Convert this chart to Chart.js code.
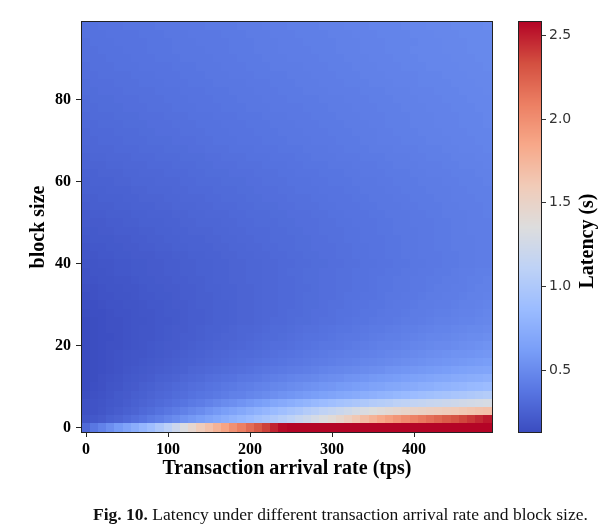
<!DOCTYPE html>
<html>
<head>
<meta charset="utf-8">
<title>Latency heatmap</title>
<script src="https://cdn.jsdelivr.net/npm/chart.js"></script>
<style>
  html, body { margin: 0; padding: 0; background: #fff; }
  #wrap { position: relative; width: 616px; height: 531px; overflow: hidden; }
  #heatmap { position: absolute; left: 0; top: 0; }
  #colorbar { position: absolute; left: 500px; top: 0; }
  #caption { position: absolute; left: 93px; top: 504px; font: 17.5px "Liberation Serif", serif; color: #111; white-space: nowrap; }
</style>
</head>
<body>
<div id="wrap">
  <canvas id="heatmap" width="616" height="531"></canvas>
  <canvas id="colorbar" width="116" height="531"></canvas>
  <div id="caption"><b>Fig. 10.</b> Latency under different transaction arrival rate and block size.</div>
</div>
<script>
// Transaction arrival rate (tps), one column each
const rates = [0,10,20,30,40,50,60,70,80,90,100,110,120,130,140,150,160,170,180,190,200,210,220,230,240,250,260,270,280,290,300,310,320,330,340,350,360,370,380,390,400,410,420,430,440,450,460,470,480,490];

// Block size, top row first
const blockSizes = [98,96,94,92,90,88,86,84,82,80,78,76,74,72,70,68,66,64,62,60,58,56,54,52,50,48,46,44,42,40,38,36,34,32,30,28,26,24,22,20,18,16,14,12,10,8,6,4,2,0];

// Latency (s), one row per block size
const latency = [
  [0.35,0.35,0.36,0.36,0.36,0.37,0.37,0.37,0.37,0.38,0.38,0.38,0.39,0.39,0.39,0.40,0.40,0.40,0.40,0.41,0.41,0.41,0.42,0.42,0.42,0.43,0.43,0.43,0.43,0.44,0.44,0.44,0.45,0.45,0.45,0.46,0.46,0.46,0.46,0.47,0.47,0.47,0.48,0.48,0.48,0.49,0.49,0.49,0.49,0.50],
  [0.35,0.35,0.35,0.36,0.36,0.36,0.36,0.37,0.37,0.37,0.38,0.38,0.38,0.39,0.39,0.39,0.39,0.40,0.40,0.40,0.41,0.41,0.41,0.42,0.42,0.42,0.43,0.43,0.43,0.43,0.44,0.44,0.44,0.45,0.45,0.45,0.46,0.46,0.46,0.46,0.47,0.47,0.47,0.48,0.48,0.48,0.49,0.49,0.49,0.49],
  [0.34,0.35,0.35,0.35,0.36,0.36,0.36,0.36,0.37,0.37,0.37,0.38,0.38,0.38,0.39,0.39,0.39,0.39,0.40,0.40,0.40,0.41,0.41,0.41,0.42,0.42,0.42,0.43,0.43,0.43,0.43,0.44,0.44,0.44,0.45,0.45,0.45,0.46,0.46,0.46,0.46,0.47,0.47,0.47,0.48,0.48,0.48,0.49,0.49,0.49],
  [0.34,0.34,0.35,0.35,0.35,0.36,0.36,0.36,0.37,0.37,0.37,0.38,0.38,0.38,0.38,0.39,0.39,0.39,0.40,0.40,0.40,0.41,0.41,0.41,0.42,0.42,0.42,0.42,0.43,0.43,0.43,0.44,0.44,0.44,0.45,0.45,0.45,0.46,0.46,0.46,0.47,0.47,0.47,0.47,0.48,0.48,0.48,0.49,0.49,0.49],
  [0.34,0.34,0.34,0.35,0.35,0.35,0.36,0.36,0.36,0.37,0.37,0.37,0.38,0.38,0.38,0.38,0.39,0.39,0.39,0.40,0.40,0.40,0.41,0.41,0.41,0.42,0.42,0.42,0.42,0.43,0.43,0.43,0.44,0.44,0.44,0.45,0.45,0.45,0.46,0.46,0.46,0.47,0.47,0.47,0.47,0.48,0.48,0.48,0.49,0.49],
  [0.33,0.34,0.34,0.34,0.35,0.35,0.35,0.36,0.36,0.36,0.36,0.37,0.37,0.37,0.38,0.38,0.38,0.39,0.39,0.39,0.40,0.40,0.40,0.41,0.41,0.41,0.41,0.42,0.42,0.42,0.43,0.43,0.43,0.44,0.44,0.44,0.45,0.45,0.45,0.46,0.46,0.46,0.47,0.47,0.47,0.47,0.48,0.48,0.48,0.49],
  [0.33,0.33,0.34,0.34,0.34,0.34,0.35,0.35,0.35,0.36,0.36,0.36,0.37,0.37,0.37,0.38,0.38,0.38,0.39,0.39,0.39,0.40,0.40,0.40,0.40,0.41,0.41,0.41,0.42,0.42,0.42,0.43,0.43,0.43,0.44,0.44,0.44,0.45,0.45,0.45,0.45,0.46,0.46,0.46,0.47,0.47,0.47,0.48,0.48,0.48],
  [0.32,0.33,0.33,0.33,0.34,0.34,0.34,0.35,0.35,0.35,0.36,0.36,0.36,0.37,0.37,0.37,0.38,0.38,0.38,0.38,0.39,0.39,0.39,0.40,0.40,0.40,0.41,0.41,0.41,0.42,0.42,0.42,0.43,0.43,0.43,0.44,0.44,0.44,0.45,0.45,0.45,0.46,0.46,0.46,0.46,0.47,0.47,0.47,0.48,0.48],
  [0.32,0.32,0.33,0.33,0.33,0.34,0.34,0.34,0.34,0.35,0.35,0.35,0.36,0.36,0.36,0.37,0.37,0.37,0.38,0.38,0.38,0.39,0.39,0.39,0.40,0.40,0.40,0.41,0.41,0.41,0.42,0.42,0.42,0.42,0.43,0.43,0.43,0.44,0.44,0.44,0.45,0.45,0.45,0.46,0.46,0.46,0.47,0.47,0.47,0.48],
  [0.31,0.32,0.32,0.32,0.33,0.33,0.33,0.34,0.34,0.34,0.35,0.35,0.35,0.36,0.36,0.36,0.37,0.37,0.37,0.38,0.38,0.38,0.39,0.39,0.39,0.40,0.40,0.40,0.40,0.41,0.41,0.41,0.42,0.42,0.42,0.43,0.43,0.43,0.44,0.44,0.44,0.45,0.45,0.45,0.46,0.46,0.46,0.47,0.47,0.47],
  [0.31,0.31,0.32,0.32,0.32,0.33,0.33,0.33,0.34,0.34,0.34,0.35,0.35,0.35,0.36,0.36,0.36,0.37,0.37,0.37,0.38,0.38,0.38,0.39,0.39,0.39,0.39,0.40,0.40,0.40,0.41,0.41,0.41,0.42,0.42,0.42,0.43,0.43,0.43,0.44,0.44,0.44,0.45,0.45,0.45,0.46,0.46,0.46,0.47,0.47],
  [0.30,0.31,0.31,0.31,0.32,0.32,0.32,0.33,0.33,0.33,0.34,0.34,0.34,0.35,0.35,0.35,0.36,0.36,0.36,0.37,0.37,0.37,0.38,0.38,0.38,0.39,0.39,0.39,0.40,0.40,0.40,0.41,0.41,0.41,0.42,0.42,0.42,0.43,0.43,0.43,0.44,0.44,0.44,0.45,0.45,0.45,0.46,0.46,0.46,0.47],
  [0.30,0.30,0.31,0.31,0.31,0.32,0.32,0.32,0.33,0.33,0.33,0.34,0.34,0.34,0.35,0.35,0.35,0.36,0.36,0.36,0.37,0.37,0.37,0.38,0.38,0.38,0.39,0.39,0.39,0.40,0.40,0.40,0.41,0.41,0.41,0.42,0.42,0.43,0.43,0.43,0.44,0.44,0.44,0.45,0.45,0.45,0.46,0.46,0.46,0.47],
  [0.29,0.30,0.30,0.30,0.31,0.31,0.31,0.32,0.32,0.33,0.33,0.33,0.34,0.34,0.34,0.35,0.35,0.35,0.36,0.36,0.36,0.37,0.37,0.37,0.38,0.38,0.38,0.39,0.39,0.39,0.40,0.40,0.40,0.41,0.41,0.41,0.42,0.42,0.43,0.43,0.43,0.44,0.44,0.44,0.45,0.45,0.45,0.46,0.46,0.46],
  [0.29,0.29,0.30,0.30,0.30,0.31,0.31,0.31,0.32,0.32,0.32,0.33,0.33,0.33,0.34,0.34,0.35,0.35,0.35,0.36,0.36,0.36,0.37,0.37,0.37,0.38,0.38,0.38,0.39,0.39,0.39,0.40,0.40,0.40,0.41,0.41,0.42,0.42,0.42,0.43,0.43,0.43,0.44,0.44,0.44,0.45,0.45,0.45,0.46,0.46],
  [0.28,0.29,0.29,0.29,0.30,0.30,0.30,0.31,0.31,0.31,0.32,0.32,0.32,0.33,0.33,0.34,0.34,0.34,0.35,0.35,0.35,0.36,0.36,0.36,0.37,0.37,0.37,0.38,0.38,0.38,0.39,0.39,0.40,0.40,0.40,0.41,0.41,0.41,0.42,0.42,0.42,0.43,0.43,0.43,0.44,0.44,0.45,0.45,0.45,0.46],
  [0.27,0.28,0.28,0.29,0.29,0.29,0.30,0.30,0.30,0.31,0.31,0.31,0.32,0.32,0.32,0.33,0.33,0.34,0.34,0.34,0.35,0.35,0.35,0.36,0.36,0.36,0.37,0.37,0.38,0.38,0.38,0.39,0.39,0.39,0.40,0.40,0.40,0.41,0.41,0.41,0.42,0.42,0.43,0.43,0.43,0.44,0.44,0.44,0.45,0.45],
  [0.27,0.27,0.27,0.28,0.28,0.29,0.29,0.29,0.30,0.30,0.30,0.31,0.31,0.31,0.32,0.32,0.33,0.33,0.33,0.34,0.34,0.34,0.35,0.35,0.35,0.36,0.36,0.37,0.37,0.37,0.38,0.38,0.38,0.39,0.39,0.39,0.40,0.40,0.41,0.41,0.41,0.42,0.42,0.42,0.43,0.43,0.44,0.44,0.44,0.45],
  [0.26,0.26,0.27,0.27,0.27,0.28,0.28,0.29,0.29,0.29,0.30,0.30,0.30,0.31,0.31,0.32,0.32,0.32,0.33,0.33,0.33,0.34,0.34,0.34,0.35,0.35,0.36,0.36,0.36,0.37,0.37,0.37,0.38,0.38,0.39,0.39,0.39,0.40,0.40,0.40,0.41,0.41,0.42,0.42,0.42,0.43,0.43,0.43,0.44,0.44],
  [0.25,0.26,0.26,0.26,0.27,0.27,0.28,0.28,0.28,0.29,0.29,0.29,0.30,0.30,0.31,0.31,0.31,0.32,0.32,0.32,0.33,0.33,0.34,0.34,0.34,0.35,0.35,0.35,0.36,0.36,0.37,0.37,0.37,0.38,0.38,0.38,0.39,0.39,0.40,0.40,0.40,0.41,0.41,0.41,0.42,0.42,0.43,0.43,0.43,0.44],
  [0.25,0.25,0.25,0.26,0.26,0.26,0.27,0.27,0.28,0.28,0.28,0.29,0.29,0.30,0.30,0.30,0.31,0.31,0.31,0.32,0.32,0.33,0.33,0.33,0.34,0.34,0.35,0.35,0.35,0.36,0.36,0.36,0.37,0.37,0.38,0.38,0.38,0.39,0.39,0.40,0.40,0.40,0.41,0.41,0.41,0.42,0.42,0.43,0.43,0.43],
  [0.24,0.24,0.25,0.25,0.25,0.26,0.26,0.27,0.27,0.27,0.28,0.28,0.29,0.29,0.29,0.30,0.30,0.31,0.31,0.31,0.32,0.32,0.33,0.33,0.33,0.34,0.34,0.34,0.35,0.35,0.36,0.36,0.36,0.37,0.37,0.38,0.38,0.38,0.39,0.39,0.40,0.40,0.40,0.41,0.41,0.42,0.42,0.42,0.43,0.43],
  [0.23,0.24,0.24,0.24,0.25,0.25,0.26,0.26,0.26,0.27,0.27,0.28,0.28,0.28,0.29,0.29,0.30,0.30,0.30,0.31,0.31,0.32,0.32,0.32,0.33,0.33,0.34,0.34,0.34,0.35,0.35,0.36,0.36,0.36,0.37,0.37,0.38,0.38,0.38,0.39,0.39,0.40,0.40,0.40,0.41,0.41,0.42,0.42,0.42,0.43],
  [0.22,0.23,0.23,0.24,0.24,0.24,0.25,0.25,0.26,0.26,0.26,0.27,0.27,0.28,0.28,0.29,0.29,0.29,0.30,0.30,0.31,0.31,0.31,0.32,0.32,0.33,0.33,0.33,0.34,0.34,0.35,0.35,0.36,0.36,0.36,0.37,0.37,0.38,0.38,0.38,0.39,0.39,0.40,0.40,0.41,0.41,0.41,0.42,0.42,0.43],
  [0.22,0.22,0.22,0.23,0.23,0.24,0.24,0.25,0.25,0.25,0.26,0.26,0.27,0.27,0.28,0.28,0.28,0.29,0.29,0.30,0.30,0.31,0.31,0.31,0.32,0.32,0.33,0.33,0.33,0.34,0.34,0.35,0.35,0.36,0.36,0.36,0.37,0.37,0.38,0.38,0.39,0.39,0.39,0.40,0.40,0.41,0.41,0.42,0.42,0.42],
  [0.21,0.21,0.22,0.22,0.23,0.23,0.23,0.24,0.24,0.25,0.25,0.26,0.26,0.27,0.27,0.27,0.28,0.28,0.29,0.29,0.30,0.30,0.30,0.31,0.31,0.32,0.32,0.33,0.33,0.34,0.34,0.34,0.35,0.35,0.36,0.36,0.37,0.37,0.38,0.38,0.38,0.39,0.39,0.40,0.40,0.41,0.41,0.42,0.42,0.42],
  [0.20,0.21,0.21,0.21,0.22,0.22,0.23,0.23,0.24,0.24,0.25,0.25,0.26,0.26,0.26,0.27,0.27,0.28,0.28,0.29,0.29,0.30,0.30,0.31,0.31,0.31,0.32,0.32,0.33,0.33,0.34,0.34,0.35,0.35,0.36,0.36,0.36,0.37,0.37,0.38,0.38,0.39,0.39,0.40,0.40,0.41,0.41,0.41,0.42,0.42],
  [0.19,0.20,0.20,0.21,0.21,0.22,0.22,0.23,0.23,0.24,0.24,0.25,0.25,0.26,0.26,0.26,0.27,0.27,0.28,0.28,0.29,0.29,0.30,0.30,0.31,0.31,0.32,0.32,0.33,0.33,0.33,0.34,0.34,0.35,0.35,0.36,0.36,0.37,0.37,0.38,0.38,0.39,0.39,0.40,0.40,0.41,0.41,0.41,0.42,0.42],
  [0.19,0.19,0.20,0.20,0.21,0.21,0.22,0.22,0.22,0.23,0.23,0.24,0.24,0.25,0.25,0.26,0.26,0.27,0.27,0.28,0.28,0.29,0.29,0.30,0.30,0.31,0.31,0.32,0.32,0.33,0.33,0.34,0.34,0.35,0.35,0.36,0.36,0.37,0.37,0.38,0.38,0.39,0.39,0.39,0.40,0.40,0.41,0.41,0.42,0.42],
  [0.18,0.18,0.19,0.19,0.20,0.20,0.21,0.21,0.22,0.22,0.23,0.23,0.24,0.24,0.25,0.25,0.26,0.26,0.27,0.27,0.28,0.28,0.29,0.29,0.30,0.30,0.31,0.31,0.32,0.32,0.33,0.33,0.34,0.34,0.35,0.35,0.36,0.36,0.37,0.37,0.38,0.38,0.39,0.39,0.40,0.40,0.41,0.41,0.42,0.42],
  [0.17,0.18,0.18,0.19,0.20,0.20,0.21,0.21,0.22,0.22,0.23,0.23,0.24,0.24,0.25,0.25,0.26,0.26,0.27,0.27,0.28,0.28,0.29,0.29,0.30,0.31,0.31,0.32,0.32,0.33,0.33,0.34,0.34,0.35,0.35,0.36,0.36,0.37,0.37,0.38,0.38,0.39,0.39,0.40,0.40,0.41,0.42,0.42,0.43,0.43],
  [0.17,0.17,0.18,0.18,0.19,0.19,0.20,0.21,0.21,0.22,0.22,0.23,0.23,0.24,0.24,0.25,0.26,0.26,0.27,0.27,0.28,0.28,0.29,0.29,0.30,0.30,0.31,0.32,0.32,0.33,0.33,0.34,0.34,0.35,0.35,0.36,0.37,0.37,0.38,0.38,0.39,0.39,0.40,0.40,0.41,0.41,0.42,0.43,0.43,0.44],
  [0.16,0.16,0.17,0.18,0.18,0.19,0.19,0.20,0.21,0.21,0.22,0.22,0.23,0.23,0.24,0.25,0.25,0.26,0.26,0.27,0.27,0.28,0.29,0.29,0.30,0.30,0.31,0.31,0.32,0.33,0.33,0.34,0.34,0.35,0.35,0.36,0.37,0.37,0.38,0.38,0.39,0.39,0.40,0.41,0.41,0.42,0.42,0.43,0.44,0.44],
  [0.15,0.16,0.17,0.17,0.18,0.18,0.19,0.20,0.20,0.21,0.21,0.22,0.23,0.23,0.24,0.24,0.25,0.26,0.26,0.27,0.27,0.28,0.29,0.29,0.30,0.30,0.31,0.32,0.32,0.33,0.33,0.34,0.35,0.35,0.36,0.36,0.37,0.38,0.38,0.39,0.39,0.40,0.41,0.41,0.42,0.42,0.43,0.44,0.44,0.45],
  [0.15,0.15,0.16,0.17,0.17,0.18,0.18,0.19,0.20,0.20,0.21,0.22,0.22,0.23,0.24,0.24,0.25,0.25,0.26,0.27,0.27,0.28,0.29,0.29,0.30,0.30,0.31,0.32,0.32,0.33,0.34,0.34,0.35,0.36,0.36,0.37,0.37,0.38,0.39,0.39,0.40,0.41,0.41,0.42,0.42,0.43,0.44,0.44,0.45,0.46],
  [0.14,0.15,0.15,0.16,0.17,0.17,0.18,0.19,0.19,0.20,0.21,0.21,0.22,0.23,0.23,0.24,0.25,0.25,0.26,0.27,0.27,0.28,0.29,0.29,0.30,0.31,0.31,0.32,0.33,0.33,0.34,0.35,0.35,0.36,0.37,0.37,0.38,0.39,0.39,0.40,0.41,0.41,0.42,0.43,0.43,0.44,0.45,0.45,0.46,0.47],
  [0.13,0.14,0.15,0.16,0.16,0.17,0.18,0.18,0.19,0.20,0.20,0.21,0.22,0.23,0.23,0.24,0.25,0.25,0.26,0.27,0.27,0.28,0.29,0.30,0.30,0.31,0.32,0.32,0.33,0.34,0.34,0.35,0.36,0.37,0.37,0.38,0.39,0.39,0.40,0.41,0.41,0.42,0.43,0.44,0.44,0.45,0.46,0.46,0.47,0.48],
  [0.13,0.14,0.15,0.16,0.16,0.17,0.18,0.19,0.19,0.20,0.21,0.22,0.22,0.23,0.24,0.25,0.25,0.26,0.27,0.28,0.28,0.29,0.30,0.31,0.31,0.32,0.33,0.34,0.34,0.35,0.36,0.37,0.37,0.38,0.39,0.40,0.40,0.41,0.42,0.43,0.43,0.44,0.45,0.46,0.46,0.47,0.48,0.49,0.49,0.50],
  [0.13,0.14,0.15,0.15,0.16,0.17,0.18,0.19,0.19,0.20,0.21,0.22,0.23,0.23,0.24,0.25,0.26,0.27,0.27,0.28,0.29,0.30,0.31,0.31,0.32,0.33,0.34,0.35,0.35,0.36,0.37,0.38,0.39,0.39,0.40,0.41,0.42,0.43,0.43,0.44,0.45,0.46,0.47,0.47,0.48,0.49,0.50,0.51,0.51,0.52],
  [0.13,0.14,0.15,0.16,0.16,0.17,0.18,0.19,0.20,0.21,0.22,0.22,0.23,0.24,0.25,0.26,0.27,0.27,0.28,0.29,0.30,0.31,0.32,0.33,0.33,0.34,0.35,0.36,0.37,0.38,0.38,0.39,0.40,0.41,0.42,0.43,0.44,0.44,0.45,0.46,0.47,0.48,0.49,0.50,0.50,0.51,0.52,0.53,0.54,0.55],
  [0.13,0.14,0.15,0.16,0.17,0.18,0.19,0.19,0.20,0.21,0.22,0.23,0.24,0.25,0.26,0.27,0.28,0.29,0.30,0.31,0.31,0.32,0.33,0.34,0.35,0.36,0.37,0.38,0.39,0.40,0.41,0.42,0.43,0.43,0.44,0.45,0.46,0.47,0.48,0.49,0.50,0.51,0.52,0.53,0.54,0.55,0.55,0.56,0.57,0.58],
  [0.13,0.14,0.15,0.16,0.17,0.18,0.19,0.20,0.21,0.22,0.23,0.24,0.25,0.26,0.27,0.28,0.29,0.30,0.31,0.32,0.33,0.34,0.35,0.36,0.37,0.38,0.39,0.40,0.41,0.42,0.43,0.44,0.45,0.46,0.47,0.48,0.49,0.50,0.51,0.52,0.53,0.54,0.55,0.56,0.57,0.58,0.59,0.60,0.61,0.62],
  [0.13,0.14,0.15,0.16,0.17,0.19,0.20,0.21,0.22,0.23,0.24,0.25,0.26,0.28,0.29,0.30,0.31,0.32,0.33,0.34,0.35,0.37,0.38,0.39,0.40,0.41,0.42,0.43,0.44,0.46,0.47,0.48,0.49,0.50,0.51,0.52,0.53,0.55,0.56,0.57,0.58,0.59,0.60,0.61,0.62,0.64,0.65,0.66,0.67,0.68],
  [0.13,0.14,0.16,0.17,0.18,0.20,0.21,0.22,0.23,0.25,0.26,0.27,0.29,0.30,0.31,0.33,0.34,0.35,0.36,0.38,0.39,0.40,0.42,0.43,0.44,0.46,0.47,0.48,0.49,0.51,0.52,0.53,0.55,0.56,0.57,0.59,0.60,0.61,0.62,0.64,0.65,0.66,0.68,0.69,0.70,0.72,0.73,0.74,0.75,0.77],
  [0.13,0.15,0.16,0.18,0.19,0.21,0.22,0.24,0.25,0.27,0.28,0.30,0.31,0.33,0.34,0.36,0.37,0.39,0.40,0.42,0.43,0.45,0.46,0.48,0.49,0.51,0.52,0.54,0.55,0.57,0.58,0.60,0.61,0.63,0.64,0.66,0.67,0.69,0.70,0.72,0.73,0.75,0.76,0.78,0.79,0.81,0.82,0.84,0.85,0.87],
  [0.14,0.16,0.17,0.19,0.21,0.22,0.24,0.25,0.27,0.29,0.30,0.32,0.33,0.35,0.37,0.38,0.40,0.42,0.44,0.45,0.47,0.49,0.51,0.53,0.55,0.57,0.59,0.61,0.63,0.65,0.67,0.69,0.71,0.73,0.75,0.77,0.79,0.81,0.83,0.85,0.87,0.89,0.91,0.93,0.94,0.96,0.98,1.00,1.02,1.04],
  [0.16,0.17,0.18,0.20,0.21,0.23,0.25,0.27,0.29,0.31,0.33,0.35,0.37,0.40,0.42,0.45,0.48,0.51,0.53,0.56,0.59,0.62,0.65,0.69,0.72,0.75,0.78,0.81,0.84,0.87,0.90,0.93,0.95,0.98,1.00,1.03,1.05,1.07,1.10,1.12,1.14,1.16,1.18,1.19,1.21,1.23,1.25,1.27,1.28,1.30],
  [0.16,0.17,0.19,0.21,0.23,0.25,0.27,0.30,0.32,0.35,0.38,0.41,0.44,0.48,0.51,0.55,0.59,0.63,0.66,0.70,0.74,0.78,0.82,0.86,0.90,0.94,0.98,1.03,1.07,1.12,1.16,1.20,1.24,1.28,1.32,1.36,1.39,1.42,1.45,1.48,1.50,1.52,1.54,1.56,1.58,1.60,1.62,1.64,1.66,1.68],
  [0.18,0.20,0.22,0.25,0.27,0.30,0.33,0.36,0.40,0.43,0.47,0.51,0.55,0.59,0.63,0.67,0.71,0.75,0.79,0.83,0.87,0.92,0.96,1.01,1.06,1.11,1.17,1.22,1.28,1.34,1.40,1.47,1.54,1.62,1.70,1.77,1.84,1.90,1.96,2.02,2.07,2.12,2.17,2.22,2.27,2.31,2.36,2.41,2.46,2.51],
  [0.30,0.38,0.45,0.52,0.60,0.67,0.74,0.82,0.89,0.99,1.09,1.21,1.33,1.45,1.58,1.67,1.77,1.87,1.99,2.09,2.19,2.29,2.38,2.48,2.56,2.58,2.58,2.58,2.58,2.58,2.58,2.58,2.58,2.58,2.58,2.58,2.58,2.58,2.58,2.58,2.58,2.58,2.58,2.58,2.58,2.58,2.58,2.58,2.58,2.58]
];

const xTicks = [0, 100, 200, 300, 400];
const yTicks = [0, 20, 40, 60, 80];
const cbTicks = [0.5, 1.0, 1.5, 2.0, 2.5];

// colour bar range
const latencyMin = 0.13;
const latencyMax = 2.58;

// coolwarm, 11 stops
const coolwarm = [
  [59,76,192],[88,118,226],[121,158,248],[155,188,255],[190,210,246],[221,221,221],
  [241,203,184],[247,168,137],[236,127,99],[211,79,64],[180,4,38]
];

function colorFor(v) {
  let t = (v - latencyMin) / (latencyMax - latencyMin);
  t = Math.max(0, Math.min(1, t)) * (coolwarm.length - 1);
  const i = Math.min(Math.floor(t), coolwarm.length - 2);
  const f = t - i;
  const a = coolwarm[i], b = coolwarm[i + 1];
  const c = a.map((x, k) => Math.round(x + (b[k] - x) * f));
  return `rgb(${c[0]},${c[1]},${c[2]})`;
}

const cells = [];
blockSizes.forEach((b, r) => {
  rates.forEach((x, c) => {
    cells.push({ x: x, y: b, v: latency[r][c] });
  });
});

const dx = rates[1] - rates[0];
const dy = Math.abs(blockSizes[0] - blockSizes[1]);

const tickFont = { family: "'Liberation Serif', serif", size: 16, weight: 'bold' };
const titleFont = { family: "'Liberation Serif', serif", size: 20, weight: 'bold' };

function drawFrame(chart) {
  const { ctx, chartArea: a } = chart;
  ctx.save();
  ctx.strokeStyle = '#222';
  ctx.lineWidth = 1;
  ctx.strokeRect(a.left - 0.5, a.top - 0.5, a.right - a.left + 1, a.bottom - a.top + 1);
  ctx.restore();
}

const heatmapCells = {
  id: 'heatmapCells',
  beforeDatasetsDraw(chart) {
    const { ctx, scales: { x, y } } = chart;
    ctx.save();
    chart.data.datasets[0].data.forEach(cell => {
      const x0 = Math.floor(x.getPixelForValue(cell.x - dx / 2));
      const x1 = Math.ceil(x.getPixelForValue(cell.x + dx / 2));
      const y0 = Math.floor(y.getPixelForValue(cell.y + dy / 2));
      const y1 = Math.ceil(y.getPixelForValue(cell.y - dy / 2));
      ctx.fillStyle = colorFor(cell.v);
      ctx.fillRect(x0, y0, x1 - x0, y1 - y0);
    });
    ctx.restore();
  },
  afterDraw: drawFrame
};

new Chart(document.getElementById('heatmap'), {
  type: 'scatter',
  data: { datasets: [{ data: cells, pointRadius: 0, pointHoverRadius: 0 }] },
  options: {
    responsive: false,
    animation: false,
    devicePixelRatio: 1,
    events: [],
    layout: { padding: { top: 22, right: 124, left: 0, bottom: 0 } },
    plugins: { legend: { display: false }, tooltip: { enabled: false } },
    scales: {
      x: {
        type: 'linear',
        bounds: 'data',
        min: rates[0] - dx / 2,
        max: rates[rates.length - 1] + dx / 2,
        afterBuildTicks: s => { s.ticks = xTicks.map(v => ({ value: v })); },
        afterFit: s => { s.height = 99; },
        ticks: { callback: v => String(v), font: tickFont, color: '#000', padding: 3, maxRotation: 0 },
        grid: { drawOnChartArea: false, tickLength: 5, color: '#222' },
        border: { color: '#222' },
        title: { display: true, text: 'Transaction arrival rate (tps)', font: titleFont, color: '#000', padding: { top: 0, bottom: 50 } }
      },
      y: {
        type: 'linear',
        bounds: 'data',
        min: blockSizes[blockSizes.length - 1] - dy / 2,
        max: blockSizes[0] + dy / 2,
        afterBuildTicks: s => { s.ticks = yTicks.map(v => ({ value: v })); },
        afterFit: s => { s.width = 82; },
        ticks: { callback: v => String(v), font: tickFont, color: '#000', padding: 5 },
        grid: { drawOnChartArea: false, tickLength: 6, color: '#222' },
        border: { color: '#222' },
        title: { display: true, text: 'block size', font: titleFont, color: '#000', padding: { top: 27, bottom: 0 } }
      }
    }
  },
  plugins: [heatmapCells]
});

const colorbarFill = {
  id: 'colorbarFill',
  beforeDatasetsDraw(chart) {
    const { ctx, chartArea: a, scales: { y } } = chart;
    ctx.save();
    for (let py = a.top; py < a.bottom; py++) {
      ctx.fillStyle = colorFor(y.getValueForPixel(py + 0.5));
      ctx.fillRect(a.left, py, a.right - a.left, 1);
    }
    ctx.restore();
  },
  afterDraw(chart) {
    drawFrame(chart);
    const { ctx, chartArea: a } = chart;
    ctx.save();
    ctx.translate(a.right + 47, (a.top + a.bottom) / 2 + 14);
    ctx.rotate(-Math.PI / 2);
    ctx.font = "bold 20px 'Liberation Serif', serif";
    ctx.fillStyle = '#000';
    ctx.textAlign = 'center';
    ctx.textBaseline = 'middle';
    ctx.fillText('Latency (s)', 0, 0);
    ctx.restore();
  }
};

new Chart(document.getElementById('colorbar'), {
  type: 'scatter',
  data: { datasets: [{ data: [] }] },
  options: {
    responsive: false,
    animation: false,
    devicePixelRatio: 1,
    events: [],
    layout: { padding: { top: 22, bottom: 99, left: 19, right: 0 } },
    plugins: { legend: { display: false }, tooltip: { enabled: false } },
    scales: {
      x: { type: 'linear', display: false, min: 0, max: 1 },
      y: {
        type: 'linear',
        position: 'right',
        bounds: 'data',
        min: latencyMin,
        max: latencyMax,
        afterBuildTicks: s => { s.ticks = cbTicks.map(v => ({ value: v })); },
        afterFit: s => { s.width = 75; },
        ticks: { callback: v => v.toFixed(1), font: { family: "'DejaVu Sans', sans-serif", size: 14 }, color: '#333', padding: 3 },
        grid: { drawOnChartArea: false, tickLength: 5, color: '#333' },
        border: { color: '#222' }
      }
    }
  },
  plugins: [colorbarFill]
});
</script>
</body>
</html>
